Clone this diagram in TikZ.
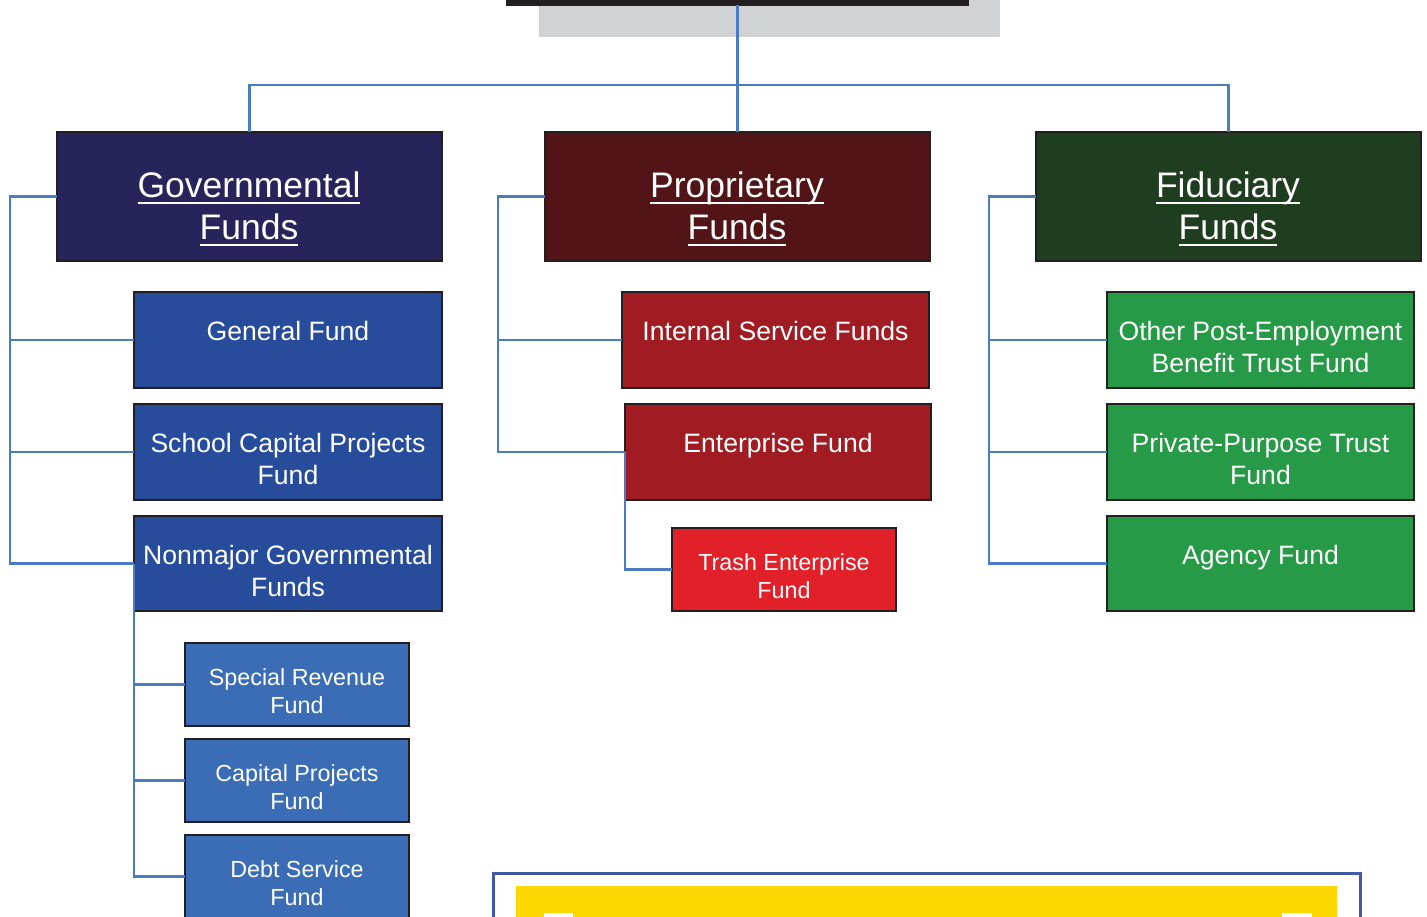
\documentclass[tikz,border=0pt]{standalone}
\usepackage{fontspec}
\setmainfont{Liberation Sans}
\definecolor{bord}{RGB}{35,31,32}
\definecolor{lineblue}{RGB}{74,124,196}
\definecolor{govhead}{RGB}{39,35,91}
\definecolor{prophead}{RGB}{82,20,22}
\definecolor{fidhead}{RGB}{31,61,31}
\definecolor{govchild}{RGB}{40,76,156}
\definecolor{subchild}{RGB}{58,109,181}
\definecolor{propchild}{RGB}{160,28,34}
\definecolor{trashred}{RGB}{225,32,41}
\definecolor{fidchild}{RGB}{39,154,71}
\definecolor{shadowgray}{RGB}{209,210,212}
\definecolor{frameblue}{RGB}{63,88,168}
\definecolor{yel}{RGB}{252,216,0}
\newcommand\hul[1]{\setbox0\hbox{#1}\rlap{\smash{\rule[-0.19em]{\wd0}{0.065em}}}\box0}
\begin{document}
\begin{tikzpicture}[x=1pt,y=-1pt,
  box/.style={draw=bord, line width=2.5pt, inner sep=0pt, outer sep=0pt},
  hbox/.style={box, minimum width=385pt, minimum height=129pt},
  mbox/.style={box, minimum width=307pt, minimum height=96pt},
  sbox/.style={box, minimum width=224pt, minimum height=83pt},
  conn/.style={draw=lineblue, line width=2.6pt},
  t35/.style={text=white, align=center, inner sep=0pt, font=\fontsize{35.5}{42}\selectfont},
  t26/.style={text=white, align=center, inner sep=0pt, font=\fontsize{26.6}{32}\selectfont},
  t23/.style={text=white, align=center, inner sep=0pt, font=\fontsize{23.3}{28}\selectfont}]
\useasboundingbox (0,0) rectangle (1427,917);
\clip (0,0) rectangle (1427,917);
% top box with shadow
\node[box, fill=bord, minimum width=461pt, minimum height=65pt] (top) at (737.5,-27.5) {};
\fill[shadowgray] ([xshift=32pt,yshift=-32pt]top.south west) rectangle ([xshift=32pt,yshift=-32pt]top.north east);
\node[box, fill=bord, minimum width=461pt, minimum height=65pt] at (top) {};
% header boxes
\node[hbox, fill=govhead] (gov) at (249.5,196.5) {};
\node[hbox, fill=prophead] (prop) at (737.5,196.5) {};
\node[hbox, fill=fidhead] (fid) at (1228.5,196.5) {};
\node[t35] (govtx) at (249,206) {\hul{Governmental}\\\hul{Funds}};
\node[t35] (proptx) at (737,206) {\hul{Proprietary}\\\hul{Funds}};
\node[t35] (fidtx) at (1228,206) {\hul{Fiduciary}\\\hul{Funds}};
% governmental children
\node[mbox, minimum width=308pt, fill=govchild] (gen) at (288,340) {};
\node[mbox, minimum width=308pt, fill=govchild] (scp) at (288,452) {};
\node[mbox, minimum width=308pt, minimum height=95pt, fill=govchild] (nonm) at (288,563.5) {};
\node[t26] (gentx) at (288,331) {General Fund};
\node[t26] (scptx) at (288,459) {School Capital Projects\\Fund};
\node[t26] (nonmtx) at (288,571) {Nonmajor Governmental\\Funds};
\node[sbox, fill=subchild] (spec) at (297,684.5) {};
\node[sbox, fill=subchild] (cap) at (297,780.5) {};
\node[sbox, fill=subchild] (debt) at (297,876.5) {};
\node[t23] (spectx) at (297,691) {Special Revenue\\Fund};
\node[t23] (captx) at (297,787) {Capital Projects\\Fund};
\node[t23] (debttx) at (297,883) {Debt Service\\Fund};
% proprietary children
\node[mbox, fill=propchild] (isf) at (775.5,340) {};
\node[mbox, minimum width=306pt, fill=propchild] (ent) at (778,452) {};
\node[sbox, fill=trashred] (trash) at (784,569.5) {};
\node[t26] (isftx) at (775.5,331) {Internal Service Funds};
\node[t26] (enttx) at (778,446) {Enterprise Fund};
\node[t23] (trashtx) at (784,576) {Trash Enterprise\\Fund};
% fiduciary children
\node[mbox, fill=fidchild] (opeb) at (1260.5,340) {};
\node[mbox, fill=fidchild] (ppt) at (1260.5,452) {};
\node[mbox, minimum height=95pt, fill=fidchild] (agency) at (1260.5,563.5) {};
\node[t26] (opebtx) at (1260.5,347) {Other Post-Employment\\Benefit Trust Fund};
\node[t26] (ppttx) at (1260.5,459) {Private-Purpose Trust\\Fund};
\node[t26] (agencytx) at (1260.5,558) {Agency Fund};
% connectors
\draw[conn] (top.south) -- (prop.north);
\draw[conn] (gov.north) -- ++(0,-47) -| (fid.north);
\draw[conn] (gov.west) -- ++(-47,0) coordinate (gl) |- (nonm.west);
\draw[conn] (gl |- gen.west) -- (gen.west);
\draw[conn] (gl |- scp.west) -- (scp.west);
\draw[conn] (nonm.west) |- (debt.west);
\draw[conn] (nonm.west |- spec.west) -- (spec.west);
\draw[conn] (nonm.west |- cap.west) -- (cap.west);
\draw[conn] (prop.west) -- ++(-47,0) coordinate (pl) |- (ent.west);
\draw[conn] (pl |- isf.west) -- (isf.west);
\draw[conn] (ent.west) |- (trash.west);
\draw[conn] (fid.west) -- ++(-47,0) coordinate (fl) |- (agency.west);
\draw[conn] (fl |- opeb.west) -- (opeb.west);
\draw[conn] (fl |- ppt.west) -- (ppt.west);
% bottom frame
\draw[line width=3pt, draw=frameblue] (493,873) rectangle (1360,1000);
\fill[yel] (516,886) rectangle (1337,1000);
\fill[white] (544,913) rectangle (573,1000);
\fill[white] (1282,913) rectangle (1312,1000);
\end{tikzpicture}
\end{document}
